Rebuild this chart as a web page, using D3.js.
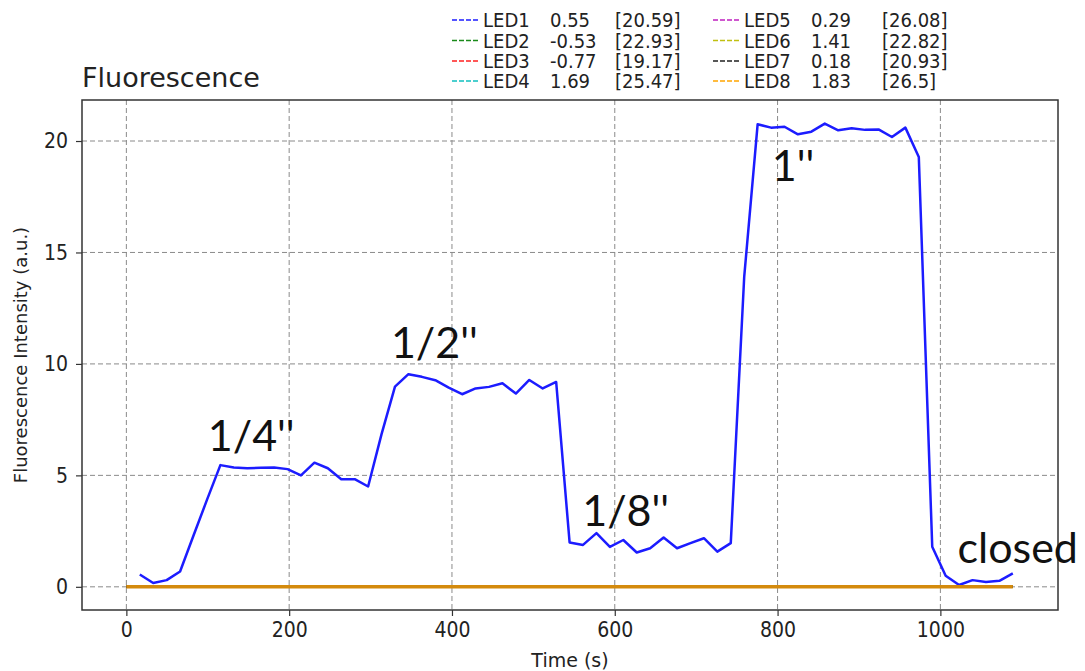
<!DOCTYPE html>
<html lang="en">
<head>
    <meta charset="UTF-8">
    <title>Fluorescence</title>
    <style type="text/css">
        html, body { padding:0; margin:0; background:#fff; }
    </style>
</head>
<body>
<script src="https://d3js.org/d3.v7.min.js"></script>
<script type="text/javascript">
    // sample times (s)
    var time = [0, 16.5, 33, 49.5, 66, 82.5, 99, 115.5, 132, 148.5, 165, 181.5, 198, 214.5, 231, 247.5,
        264, 280.5, 297, 313.5, 330, 346.5, 363, 379.5, 396, 412.5, 429, 445.5, 462, 478.5, 495, 511.5,
        528, 544.5, 561, 577.5, 594, 610.5, 627, 643.5, 660, 676.5, 693, 709.5, 726, 742.5, 759, 775.5,
        792, 808.5, 825, 841.5, 858, 874.5, 891, 907.5, 924, 940.5, 957, 973.5, 990, 1006.5, 1023,
        1039.5, 1056, 1072.5, 1089];

    // LED1 has no reading at t = 0
    var led1 = [null, 0.55, 0.17, 0.3, 0.69, 2.3, 3.9, 5.46, 5.35, 5.32, 5.34, 5.35, 5.28, 5.0, 5.57, 5.32,
        4.83, 4.83, 4.5, 6.85, 8.98, 9.54, 9.42, 9.27, 8.94, 8.64, 8.9, 8.97, 9.13, 8.67, 9.28, 8.9,
        9.19, 1.99, 1.88, 2.41, 1.79, 2.1, 1.54, 1.73, 2.21, 1.73, 1.96, 2.18, 1.58, 1.96, 13.9, 20.75,
        20.6, 20.64, 20.3, 20.42, 20.78, 20.48, 20.57, 20.5, 20.52, 20.18, 20.6, 19.28, 1.8, 0.5, 0.08,
        0.3, 0.22, 0.27, 0.6];

    // LED2..LED8 stay at zero the whole run
    var ledZero = [0, 0, 0, 0, 0, 0, 0, 0, 0, 0, 0, 0, 0, 0, 0, 0, 0, 0, 0, 0, 0, 0, 0, 0, 0, 0, 0, 0,
        0, 0, 0, 0, 0, 0, 0, 0, 0, 0, 0, 0, 0, 0, 0, 0, 0, 0, 0, 0, 0, 0, 0, 0, 0, 0, 0, 0, 0, 0, 0, 0,
        0, 0, 0, 0, 0, 0, 0];

    var ledNames = ['LED1', 'LED2', 'LED3', 'LED4', 'LED5', 'LED6', 'LED7', 'LED8'];
    var ledOffsets = ['0.55', '-0.53', '-0.77', '1.69', '0.29', '1.41', '0.18', '1.83'];
    var ledMax = ['[20.59]', '[22.93]', '[19.17]', '[25.47]', '[26.08]', '[22.82]', '[20.93]', '[26.5]'];
    var ledColors = ['#1c1cff', '#1a8a1a', '#ff2020', '#10c0c0', '#c020c0', '#c0c010', '#202020', '#ffa500'];

    var xTicks = [0, 200, 400, 600, 800, 1000];
    var yTicks = [0, 5, 10, 15, 20];

    var notes = [
        {text: "1/4''", t: 100, v: 6.1},
        {text: "1/2''", t: 325, v: 10.27},
        {text: "1/8''", t: 560, v: 2.74},
        {text: "1''", t: 793, v: 18.2},
        {text: "closed", t: 1021, v: 1.08}
    ];

    var width = 1085,
        height = 671,
        plotL = 82, plotR = 1058, plotT = 100, plotB = 610,
        tickFont = "'DejaVu Sans Condensed', 'DejaVu Sans', sans-serif",
        labelFont = "'DejaVu Sans', sans-serif";

    var svg = d3.select('body').append('svg')
        .attr('width', width)
        .attr('height', height);

    var xScale = d3.scaleLinear().domain([-54.5, 1144.5]).range([plotL, plotR]);
    var yScale = d3.scaleLinear().domain([-1.04, 21.84]).range([plotB, plotT]);

    // grid
    var grid = svg.append('g').attr('class', 'grid')
        .attr('stroke', '#8a8a8a').attr('stroke-width', 1).attr('stroke-dasharray', '5,3');
    grid.selectAll('line.gx').data(xTicks).enter().append('line')
        .attr('class', 'gx')
        .attr('x1', function(d) { return xScale(d); })
        .attr('x2', function(d) { return xScale(d); })
        .attr('y1', plotT).attr('y2', plotB);
    grid.selectAll('line.gy').data(yTicks).enter().append('line')
        .attr('class', 'gy')
        .attr('y1', function(d) { return yScale(d); })
        .attr('y2', function(d) { return yScale(d); })
        .attr('x1', plotL).attr('x2', plotR);

    // axes
    var xAxis = d3.axisBottom(xScale).tickValues(xTicks).tickFormat(d3.format('d')).tickSize(6).tickPadding(6);
    var yAxis = d3.axisLeft(yScale).tickValues(yTicks).tickFormat(d3.format('d')).tickSize(6).tickPadding(8);

    var gx = svg.append('g').attr('transform', 'translate(0,' + plotB + ')').call(xAxis);
    var gy = svg.append('g').attr('transform', 'translate(' + plotL + ',0)').call(yAxis);
    [gx, gy].forEach(function(g) {
        g.select('.domain').remove();
        g.selectAll('.tick line').attr('stroke', '#333').attr('stroke-width', 1.2);
        g.selectAll('.tick text')
            .attr('fill', '#222')
            .style('font-family', tickFont)
            .style('font-size', '21px');
    });

    // lines
    var line = d3.line()
        .defined(function(d) { return d.v !== null; })
        .x(function(d) { return xScale(d.t); })
        .y(function(d) { return yScale(d.v); });

    var series = ledNames.map(function(name, i) {
        var vals = i === 0 ? led1 : ledZero;
        return time.map(function(t, j) { return {t: t, v: vals[j]}; });
    });

    svg.append('g').selectAll('path')
        .data(series)
        .enter()
        .append('path')
        .attr('fill', 'none')
        .attr('stroke', function(d, i) { return i === 7 ? '#d48a0c' : ledColors[i]; })
        .attr('stroke-width', function(d, i) { return i === 7 ? 3.6 : 2.5; })
        .attr('stroke-linejoin', 'round')
        .attr('d', line);

    // frame
    svg.append('rect')
        .attr('x', plotL).attr('y', plotT)
        .attr('width', plotR - plotL).attr('height', plotB - plotT)
        .attr('fill', 'none').attr('stroke', '#333').attr('stroke-width', 1.5);

    // annotations
    svg.append('g').selectAll('text')
        .data(notes)
        .enter()
        .append('text')
        .attr('x', function(d) { return xScale(d.t); })
        .attr('y', function(d) { return yScale(d.v); })
        .style('font-family', 'Lato, sans-serif')
        .style('font-size', '43px')
        .attr('fill', '#111')
        .text(function(d) { return d.text; });

    // title and axis labels
    svg.append('text')
        .attr('x', plotL).attr('y', 87)
        .style('font-family', labelFont).style('font-size', '27px')
        .attr('fill', '#222')
        .text('Fluorescence');

    svg.append('text')
        .attr('x', (plotL + plotR) / 2).attr('y', 667)
        .attr('text-anchor', 'middle')
        .style('font-family', labelFont).style('font-size', '19px')
        .attr('fill', '#222')
        .text('Time (s)');

    svg.append('text')
        .attr('transform', 'translate(27,' + (plotT + plotB) / 2 + ') rotate(-90)')
        .attr('text-anchor', 'middle')
        .style('font-family', labelFont).style('font-size', '18px')
        .attr('fill', '#222')
        .text('Fluorescence Intensity (a.u.)');

    // legend: two columns of four rows
    var legend = svg.append('g').attr('class', 'legend');
    var colX = [452, 713], nameDx = 31, valDx = 98, maxDx = 163, maxDx2 = 169;
    var rowY = [20, 40.5, 61, 81];
    ledNames.forEach(function(name, i) {
        var c = Math.floor(i / 4), r = i % 4;
        var x0 = colX[c], y0 = rowY[r];
        var g = legend.append('g').attr('transform', 'translate(' + x0 + ',' + y0 + ')');
        g.append('line')
            .attr('x1', 0).attr('x2', 27).attr('y1', 0).attr('y2', 0)
            .attr('stroke', ledColors[i]).attr('stroke-width', 1.6)
            .attr('stroke-dasharray', '5,2');
        var t = g.append('g')
            .style('font-family', tickFont).style('font-size', '20px')
            .attr('fill', '#222');
        t.append('text').attr('x', nameDx).attr('y', 7).text(name);
        t.append('text').attr('x', valDx).attr('y', 7).text(ledOffsets[i]);
        t.append('text').attr('x', c === 0 ? maxDx : maxDx2).attr('y', 7).text(ledMax[i]);
    });
</script>
</body>
</html>
